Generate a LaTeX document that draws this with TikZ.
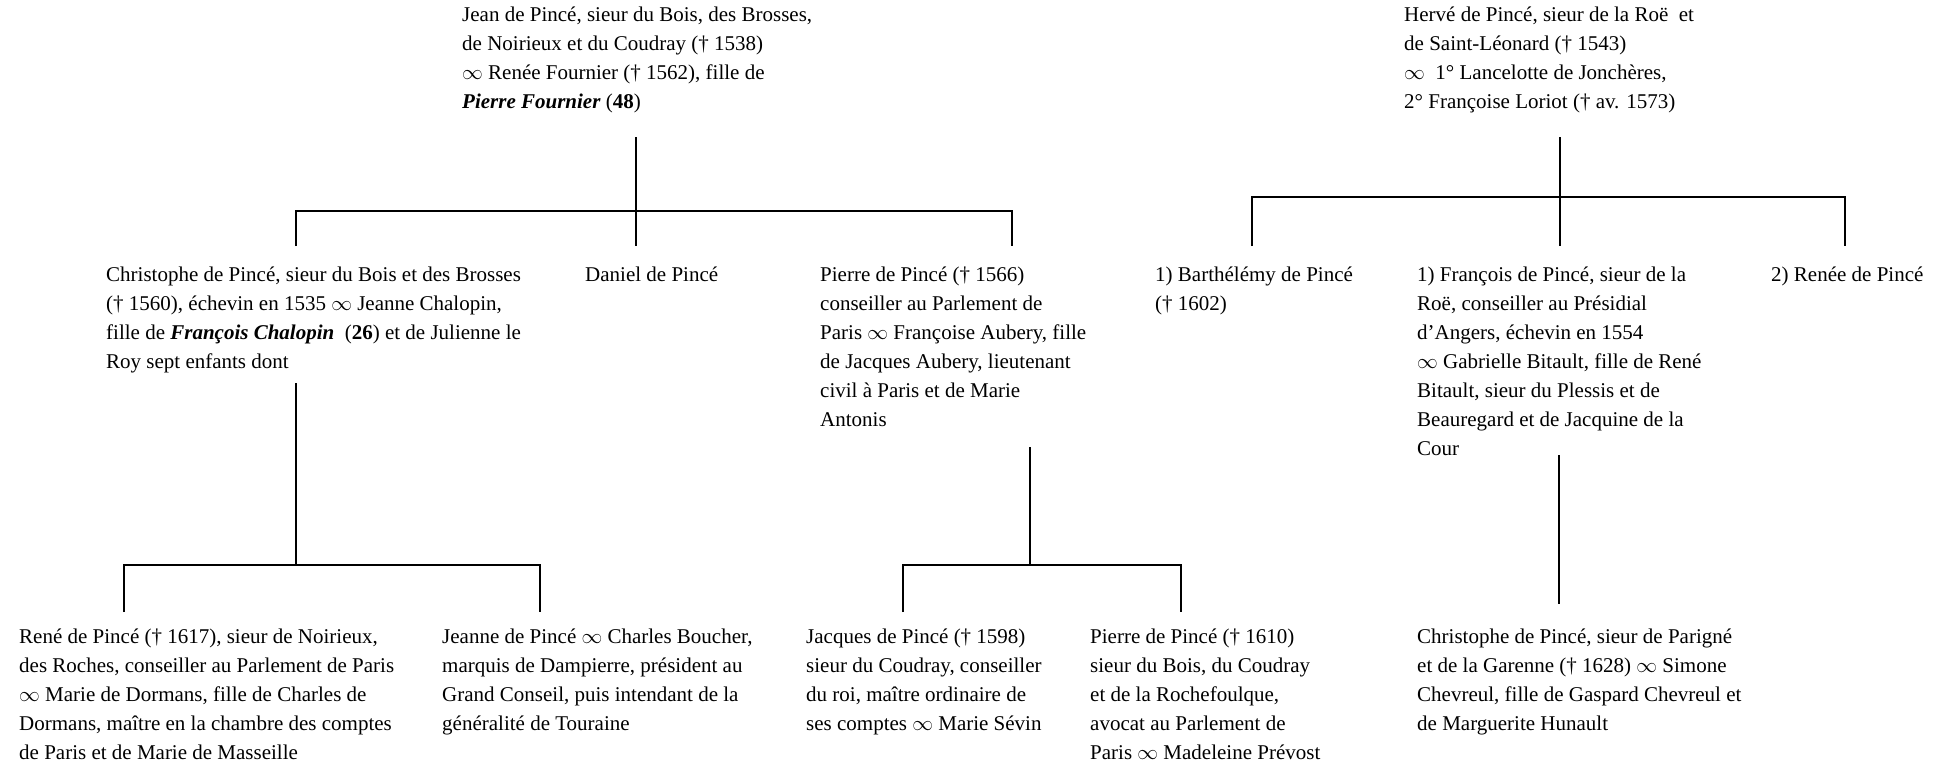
\documentclass[tikz,border=0pt]{standalone}
\usepackage{fontspec}
\setmainfont{Liberation Serif}
\newcommand{\mar}{$\infty$}
\begin{document}
\begin{tikzpicture}[x=1pt,y=-1pt,
  person/.style={anchor=north west, inner sep=0pt, align=left, font=\fontsize{21}{29}\selectfont},
  link/.style={line width=1.5pt}]
\useasboundingbox (0,0) rectangle (1948,764);
% top row
\node[person] (jean) at (462,1) {\strut Jean de Pincé, sieur du Bois, des Brosses,\\de Noirieux et du Coudray († 1538)\\\mar{} Renée Fournier († 1562), fille de\\\textbf{\textit{Pierre Fournier}} (\textbf{48})};
\node[person] (herve) at (1404,1) {\strut Hervé de Pincé, sieur de la Roë~ et\\de Saint-Léonard († 1543)\\\mar{}~ 1° Lancelotte de Jonchères,\\2° Françoise Loriot († av. 1573)};
% second row
\node[person] (chris) at (106,261) {\strut Christophe de Pincé, sieur du Bois et des Brosses\\(† 1560), échevin en 1535 \mar{} Jeanne Chalopin,\\fille de \textbf{\textit{François Chalopin}}~ (\textbf{26}) et de Julienne le\\Roy sept enfants dont};
\node[person] (daniel) at (585,261) {\strut Daniel de Pincé};
\node[person] (pierreA) at (820,261) {\strut Pierre de Pincé († 1566)\\conseiller au Parlement de\\Paris \mar{} Françoise Aubery, fille\\de Jacques Aubery, lieutenant\\civil à Paris et de Marie\\Antonis};
\node[person] (barth) at (1155,261) {\strut 1) Barthélémy de Pincé\\(† 1602)};
\node[person] (franc) at (1417,261) {\strut 1) François de Pincé, sieur de la\\Roë, conseiller au Présidial\\d’Angers, échevin en 1554\\\mar{} Gabrielle Bitault, fille de René\\Bitault, sieur du Plessis et de\\Beauregard et de Jacquine de la\\Cour};
\node[person] (renee) at (1771,261) {\strut 2) Renée de Pincé};
% bottom row
\node[person] (rene) at (19,623) {\strut René de Pincé († 1617), sieur de Noirieux,\\des Roches, conseiller au Parlement de Paris\\\mar{} Marie de Dormans, fille de Charles de\\Dormans, maître en la chambre des comptes\\de Paris et de Marie de Masseille};
\node[person] (jeanne) at (442,623) {\strut Jeanne de Pincé \mar{} Charles Boucher,\\marquis de Dampierre, président au\\Grand Conseil, puis intendant de la\\généralité de Touraine};
\node[person] (jacques) at (806,623) {\strut Jacques de Pincé († 1598)\\sieur du Coudray, conseiller\\du roi, maître ordinaire de\\ses comptes \mar{} Marie Sévin};
\node[person] (pierreB) at (1090,623) {\strut Pierre de Pincé († 1610)\\sieur du Bois, du Coudray\\et de la Rochefoulque,\\avocat au Parlement de\\Paris \mar{} Madeleine Prévost};
\node[person] (chrisB) at (1417,623) {\strut Christophe de Pincé, sieur de Parigné\\et de la Garenne († 1628) \mar{} Simone\\Chevreul, fille de Gaspard Chevreul et\\de Marguerite Hunault};
% junction coordinates
\coordinate (jS) at (636,137);
\coordinate (jB) at (636,211);
\coordinate (hS) at (1560,137);
\coordinate (hB) at (1560,197);
\coordinate (cS) at (296,383);
\coordinate (cB) at (296,565);
\coordinate (pS) at (1030,447);
\coordinate (pB) at (1030,565);
\coordinate (fS) at (1559,455);
\coordinate (fE) at (1559,604);
% connectors
\draw[link] (jS) -- (jB);
\draw[link] (296,246) |- (1012,211) -- (1012,246);
\draw[link] (jB) -- (636,246);
\draw[link] (hS) -- (hB);
\draw[link] (1252,246) |- (1845,197) -- (1845,246);
\draw[link] (hB) -- (1560,246);
\draw[link] (cS) -- (cB);
\draw[link] (124,612) |- (540,565) -- (540,612);
\draw[link] (pS) -- (pB);
\draw[link] (903,612) |- (1181,565) -- (1181,612);
\draw[link] (fS) -- (fE);
\end{tikzpicture}
\end{document}
